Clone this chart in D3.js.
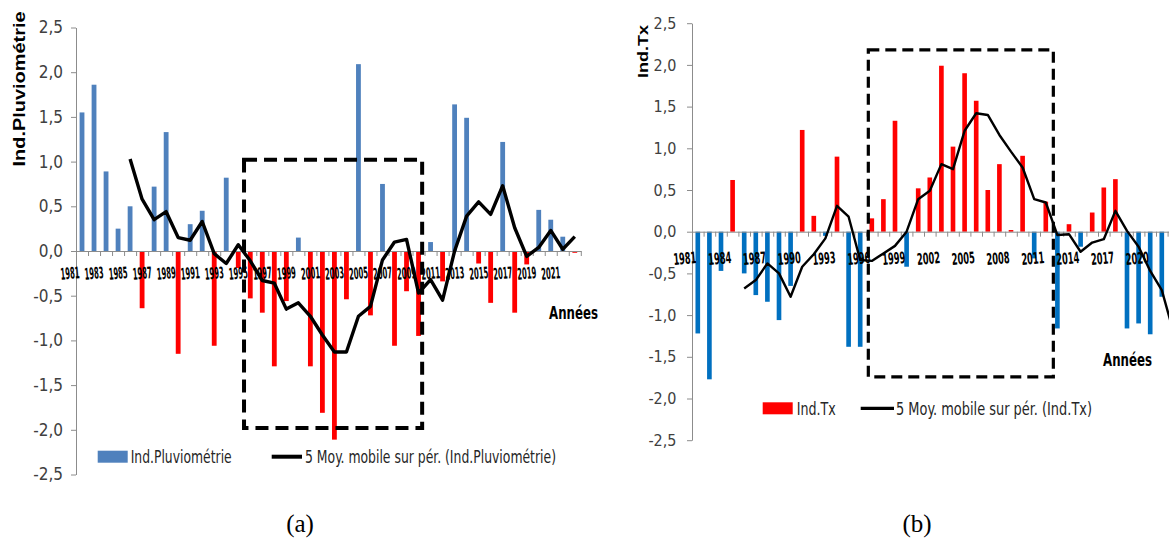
<!DOCTYPE html>
<meta charset="utf-8">
<style>
body { margin: 0; background: #fff; }
svg { display: block; font-family: "Liberation Sans Narrow", "DejaVu Sans Condensed", "Liberation Sans", sans-serif; }
.axis path, .axis line { stroke: #8c8c8c; }
</style>
<svg id="svg" width="1169" height="538"></svg>
<script src="https://cdn.jsdelivr.net/npm/d3@7"></script>
<script>
var years = d3.range(1981, 2023);

// (a) rainfall index and its 5-year moving average
var pluvio = [1.55, 1.86, 0.89, 0.25, 0.50, -0.64, 0.72, 1.33, -1.15, 0.30,
  0.45, -1.06, 0.82, -0.19, -0.53, -0.69, -1.29, -0.56, 0.15, -1.29,
  -1.81, -2.11, -0.54, 2.09, -0.72, 0.75, -1.06, -0.45, -0.95, 0.10,
  -0.34, 1.64, 1.49, -0.14, -0.58, 1.22, -0.69, -0.15, 0.46, 0.35,
  0.16, -0.02];
var pluvioMA = [null, null, null, null, 1.03, 0.58, 0.35, 0.44, 0.15, 0.12,
  0.33, -0.03, -0.14, 0.07, -0.11, -0.33, -0.36, -0.65, -0.58, -0.73,
  -0.94, -1.13, -1.13, -0.73, -0.62, -0.10, 0.10, 0.13, -0.47, -0.32,
  -0.55, 0.00, 0.39, 0.55, 0.41, 0.73, 0.26, -0.06, 0.04, 0.23,
  0.02, 0.16];
var pluvioLabels = [1981, 1983, 1985, 1987, 1989, 1991, 1993, 1995, 1997, 1999, 2001,
  2003, 2005, 2007, 2009, 2011, 2013, 2015, 2017, 2019, 2021];

// (b) Tx index and its 5-year moving average
var tx = [-1.22, -1.77, -0.47, 0.62, -0.50, -0.76, -0.84, -1.06, -0.65, 1.22,
  0.19, -0.05, 0.90, -1.38, -1.38, 0.16, 0.39, 1.33, -0.42, 0.52,
  0.65, 1.99, 1.02, 1.90, 1.57, 0.50, 0.81, 0.02, 0.91, -0.32,
  0.36, -1.16, 0.09, -0.18, 0.23, 0.53, 0.63, -1.16, -1.10, -1.23,
  -0.78, -1.70];
var txMA = [null, null, null, null, -0.68, -0.58, -0.38, -0.50, -0.78, -0.42,
  -0.27, -0.08, 0.31, 0.18, -0.34, -0.35, -0.26, -0.17, 0.00, 0.39,
  0.49, 0.81, 0.75, 1.21, 1.42, 1.40, 1.16, 0.96, 0.77, 0.39,
  0.35, -0.04, -0.03, -0.24, -0.13, -0.09, 0.25, 0.01, -0.18, -0.47,
  -0.70, -1.20];
var txLabels = [1981, 1984, 1987, 1990, 1993, 1996, 1999, 2002, 2005, 2008, 2011, 2014, 2017, 2020];

var yTicks = [2.5, 2, 1.5, 1, 0.5, 0, -0.5, -1, -1.5, -2, -2.5];

var svg = d3.select("svg");
var fmt = function(d) { return d.toFixed(1).replace(".", ","); };

function drawPanel(p) {
  var g = svg.append("g");
  var x = d3.scaleBand().domain(years).range([p.left, p.right]).paddingInner(0.6).paddingOuter(0.3);
  var xi = d3.scaleLinear().domain([0, years.length]).range([p.left, p.right]);
  var y = d3.scaleLinear().domain([-2.5, 2.5]).range([p.bottom, p.top]);
  var cx = function(i) { return x(years[i]) + x.bandwidth() / 2; };

  g.selectAll("rect.bar")
    .data(p.values)
    .enter().append("rect")
    .attr("x", function(d, i) { return x(years[i]); })
    .attr("width", x.bandwidth())
    .attr("y", function(d) { return y(Math.max(0, d)); })
    .attr("height", function(d) { return Math.abs(y(d) - y(0)); })
    .attr("fill", function(d) { return d >= 0 ? p.pos : p.neg; });

  // x axis on the zero line, ticks between categories
  g.append("g")
    .attr("class", "axis")
    .attr("transform", "translate(0," + y(0) + ")")
    .call(d3.axisBottom(xi).tickValues(d3.range(0, years.length + 1)).tickSize(5).tickSizeOuter(0).tickFormat(""));

  var ya = g.append("g")
    .attr("class", "axis")
    .attr("transform", "translate(" + p.left + ",0)")
    .call(d3.axisLeft(y).tickValues(yTicks).tickSize(5).tickSizeOuter(0).tickPadding(p.tickPad).tickFormat(fmt));
  ya.attr("font-family", null).attr("font-size", null);
  ya.selectAll("text").attr("font-size", p.yFont).attr("fill", "#404040");

  g.selectAll("text.yr")
    .data(p.labels)
    .enter().append("text")
    .attr("transform", function(d) {
      return "translate(" + (cx(d - 1981) + p.lblDx) + "," + p.lblY + ") rotate(-5)";
    })
    .attr("text-anchor", "end")
    .attr("font-weight", "bold")
    .attr("font-size", p.lblFont)
    .attr("textLength", p.lblLen)
    .attr("lengthAdjust", "spacingAndGlyphs")
    .text(function(d) { return d; });

  var line = d3.line()
    .defined(function(d) { return d != null; })
    .x(function(d, i) { return cx(i); })
    .y(function(d) { return y(d); });

  g.append("path")
    .datum(p.ma)
    .attr("fill", "none")
    .attr("stroke", "#000")
    .attr("stroke-width", p.lineW)
    .attr("stroke-linejoin", "round")
    .attr("d", line);

  // dashed frame
  g.append("rect")
    .attr("x", xi(p.box[0]))
    .attr("y", y(p.box[2]))
    .attr("width", xi(p.box[1]) - xi(p.box[0]))
    .attr("height", y(p.box[3]) - y(p.box[2]))
    .attr("fill", "none")
    .attr("stroke", "#000")
    .attr("stroke-width", p.boxW)
    .attr("stroke-dasharray", p.dash);

  // axis title
  g.append("text")
    .attr("transform", "translate(" + p.titleX + "," + p.titleY + ") rotate(-90)")
    .attr("text-anchor", "middle")
    .attr("font-family", "Liberation Sans, Arial, sans-serif")
    .attr("font-weight", "bold")
    .attr("font-size", p.titleFont)
    .attr("textLength", p.titleLen)
    .attr("lengthAdjust", "spacingAndGlyphs")
    .text(p.title);

  g.append("text")
    .attr("x", p.anneesX).attr("y", p.anneesY)
    .attr("font-weight", "bold")
    .attr("font-size", 17)
    .attr("textLength", 49)
    .attr("lengthAdjust", "spacingAndGlyphs")
    .text("Années");

  // legend
  var lg = p.legend;
  g.append("rect").attr("x", lg.rx).attr("y", lg.ry).attr("width", 30).attr("height", 12).attr("fill", p.legendFill);
  g.append("text").attr("x", lg.t1x).attr("y", lg.ty)
    .attr("font-size", 18).attr("fill", "#262626")
    .attr("textLength", lg.t1len).attr("lengthAdjust", "spacingAndGlyphs")
    .text(p.name);
  g.append("line").attr("x1", lg.lx0).attr("x2", lg.lx1).attr("y1", lg.ly).attr("y2", lg.ly)
    .attr("stroke", "#000").attr("stroke-width", lg.lw);
  g.append("text").attr("x", lg.t2x).attr("y", lg.ty)
    .attr("font-size", 18).attr("fill", "#262626")
    .attr("textLength", lg.t2len).attr("lengthAdjust", "spacingAndGlyphs")
    .text("5 Moy. mobile sur pér. (" + p.name + ")");

  g.append("text")
    .attr("x", p.capX).attr("y", 532)
    .attr("text-anchor", "middle")
    .attr("font-family", "Liberation Serif, Times New Roman, serif")
    .attr("font-size", 25)
    .text(p.cap);
}

drawPanel({
  values: pluvio, ma: pluvioMA, labels: pluvioLabels, name: "Ind.Pluviométrie",
  left: 76, right: 580.8, top: 27.5, bottom: 474.5,
  pos: "#4F81BD", neg: "#FF0000", legendFill: "#4F81BD",
  tickPad: 8, yFont: 17, lblDx: -2, lblY: 278, lblFont: 16, lblLen: 19,
  lineW: 3.4, boxW: 4, dash: "13,7", box: [13.98, 28.8, 1.02, -1.98],
  title: "Ind.Pluviométrie", titleX: 25, titleY: 89, titleFont: 16, titleLen: 155,
  anneesX: 549, anneesY: 319,
  legend: { rx: 97.7, ry: 450.7, t1x: 130.7, t1len: 101, ty: 463, lx0: 271.7, lx1: 302, ly: 456.7, lw: 4, t2x: 305, t2len: 251 },
  capX: 300, cap: "(a)"
});

drawPanel({
  values: tx, ma: txMA, labels: txLabels, name: "Ind.Tx",
  left: 692, right: 1179.2, top: 23.2, bottom: 440.2,
  pos: "#FF0000", neg: "#0070C0", legendFill: "#FF0000",
  tickPad: 10.5, yFont: 16, lblDx: -1, lblY: 263, lblFont: 16, lblLen: 23,
  lineW: 2.4, boxW: 3.2, dash: "11,6", box: [15.2, 31.15, 2.18, -1.74],
  title: "Ind.Tx", titleX: 648, titleY: 51.5, titleFont: 14, titleLen: 53,
  anneesX: 1103, anneesY: 366,
  legend: { rx: 762.7, ry: 402.3, t1x: 796.7, t1len: 39, ty: 414.5, lx0: 860.7, lx1: 894, ly: 408.3, lw: 3.3, t2x: 896, t2len: 196 },
  capX: 917, cap: "(b)"
});
</script>
